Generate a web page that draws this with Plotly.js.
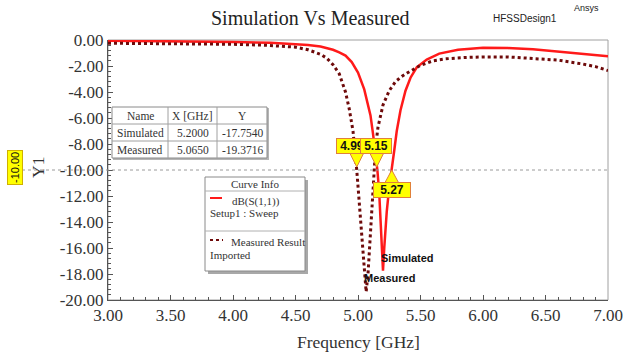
<!DOCTYPE html>
<html>
<head>
<meta charset="utf-8">
<script src="https://cdn.plot.ly/plotly-3.0.1.min.js"></script>
<style>html,body{margin:0;padding:0;background:#fff;}#chart{width:625px;height:358px;}</style>
</head>
<body>
<div id="chart"></div>
<script>
// ---- Data ----
const simFreq = [3.0, 3.5, 4.0, 4.3, 4.5, 4.6, 4.7, 4.8, 4.85, 4.9, 4.95, 5.0, 5.05, 5.1, 5.12, 5.14, 5.155, 5.17, 5.185, 5.195, 5.2,
  5.21, 5.23, 5.25, 5.27, 5.29, 5.31, 5.34, 5.38, 5.42, 5.47, 5.55, 5.65, 5.8, 6.0, 6.2, 6.4, 6.6, 6.8, 7.0];
const simDb = [-0.05, -0.08, -0.15, -0.22, -0.3, -0.38, -0.5, -0.75, -0.95, -1.2, -1.7, -2.5, -3.8, -5.8, -7.2, -8.8, -10.0, -11.8, -14.5, -17.0, -17.754,
  -16.0, -13.2, -11.3, -10.0, -8.5, -7.0, -5.4, -3.9, -2.9, -2.1, -1.5, -1.05, -0.75, -0.6, -0.62, -0.72, -0.88, -1.05, -1.25];

const measFreq = [3.0, 3.5, 4.0, 4.25, 4.5, 4.6, 4.7, 4.75, 4.8, 4.85, 4.9, 4.93, 4.96, 4.99, 5.01, 5.03, 5.05, 5.065,
  5.08, 5.1, 5.12, 5.13, 5.14, 5.16, 5.2, 5.25, 5.3, 5.35, 5.4, 5.45, 5.5, 5.6, 5.7, 5.85, 6.0, 6.2, 6.4, 6.6, 6.8, 6.9, 7.0];
const measDb = [-0.25, -0.28, -0.33, -0.4, -0.55, -0.75, -1.1, -1.4, -1.9, -2.6, -4.0, -5.3, -7.0, -10.0, -12.3, -14.8, -17.5, -19.3716,
  -18.0, -14.8, -12.0, -10.0, -8.3, -6.7, -5.0, -3.9, -3.2, -2.8, -2.5, -2.2, -1.95, -1.6, -1.45, -1.35, -1.3, -1.3, -1.4, -1.55, -1.85, -2.05, -2.35];

const xTickVals = [3.0, 3.5, 4.0, 4.5, 5.0, 5.5, 6.0, 6.5, 7.0];
const xTickText = ['3.00', '3.50', '4.00', '4.50', '5.00', '5.50', '6.00', '6.50', '7.00'];
const yTickVals = [0, -2, -4, -6, -8, -10, -12, -14, -16, -18, -20];
const yTickText = ['0.00', '-2.00', '-4.00', '-6.00', '-8.00', '-10.00', '-12.00', '-14.00', '-16.00', '-18.00', '-20.00'];

const tableHeader = ['Name', 'X [GHz]', 'Y'];
const tableNames = ['Simulated', 'Measured'];
const tableX = ['5.2000', '5.0650'];
const tableY = ['-17.7540', '-19.3716'];

const threshold = -10.0;
const downMarkerX = [4.99, 5.15];
const downMarkerText = ['4.99', '5.15'];
const upMarkerX = [5.27];
const upMarkerText = ['5.27'];

const simMin = [5.2, -17.754];
const measMin = [5.065, -19.3716];

// ---- Helpers for pixel placement ----
const L = 108, T = 40, PW = 500, PH = 260;
const px2x = p => (p - L) / PW;
const py2y = p => (T + PH - p) / PH;

const serif = 'Liberation Serif, Times New Roman, serif';
const sans = 'Liberation Sans, Arial, sans-serif';
const txt = '#333';

const traces = [
  {type: 'scatter', mode: 'lines', x: simFreq, y: simDb, name: 'dB(S(1,1))',
   line: {color: '#ff1a1a', width: 2.5}, hoverinfo: 'skip'},
  {type: 'scatter', mode: 'lines', x: measFreq, y: measDb, name: 'Measured Result',
   line: {color: '#6e0a0a', width: 3, dash: 'dot'}, hoverinfo: 'skip'}
];

const line = (x0, y0, x1, y1, color, width, dash) => ({
  type: 'line', xref: 'paper', yref: 'paper', x0: px2x(x0), x1: px2x(x1), y0: py2y(y0), y1: py2y(y1),
  line: {color: color, width: width, dash: dash || 'solid'}
});
const rect = (x0, y0, x1, y1, fill, lc, lw) => ({
  type: 'rect', xref: 'paper', yref: 'paper', x0: px2x(x0), x1: px2x(x1), y0: py2y(y1), y1: py2y(y0),
  fillcolor: fill, line: {color: lc || fill, width: lw === undefined ? 1 : lw}
});

// table geometry (pixels)
const tblLeft = 112, tblTop = 107, rowH = 17;
const colEdges = [tblLeft, 168, 217, 267];
const tblBottom = tblTop + rowH * 3;

const shapes = [
  {type: 'rect', xref: 'paper', yref: 'paper', x0: 0, x1: 1, y0: 0, y1: 1,
   line: {color: '#a0a0a0', width: 1}, layer: 'below'},
  {type: 'line', xref: 'paper', yref: 'y', x0: px2x(22), x1: 1, y0: threshold, y1: threshold,
   line: {color: '#9a9a9a', width: 1, dash: 'dot'}},
  // table
  rect(tblLeft + 1, tblTop + 1, colEdges[3] + 2, tblBottom + 2, '#b5b5b5', '#b5b5b5', 0),
  rect(tblLeft, tblTop, colEdges[3], tblBottom, '#ffffff', '#8a8a8a', 1),
  line(colEdges[1], tblTop, colEdges[1], tblBottom, '#a0a0a0', 1),
  line(colEdges[2], tblTop, colEdges[2], tblBottom, '#a0a0a0', 1),
  line(tblLeft, tblTop + rowH, colEdges[3], tblTop + rowH, '#a0a0a0', 1),
  line(tblLeft, tblTop + 2 * rowH, colEdges[3], tblTop + 2 * rowH, '#a0a0a0', 1),
  // curve info
  rect(208, 180, 308, 274, '#a8a8a8', '#a8a8a8', 0),
  rect(205, 177, 305, 271, '#ffffff', '#8a8a8a', 1),
  line(205, 191, 305, 191, '#b0b0b0', 1),
  line(205, 231, 305, 231, '#b0b0b0', 1),
  line(210, 198, 222, 198, '#ff1a1a', 2),
  line(210, 240, 223, 240, '#6e0a0a', 2, 'dot')
];

downMarkerX.forEach(x => shapes.push({
  type: 'path', xref: 'x', yref: 'y', xsizemode: 'pixel', ysizemode: 'pixel',
  xanchor: x, yanchor: threshold, path: 'M-7,17 L7,17 L0,3 Z',
  fillcolor: '#ffff00', line: {color: '#e0803a', width: 1}
}));
upMarkerX.forEach(x => shapes.push({
  type: 'path', xref: 'x', yref: 'y', xsizemode: 'pixel', ysizemode: 'pixel',
  xanchor: x, yanchor: threshold, path: 'M-7,-13 L7,-13 L0,0 Z',
  fillcolor: '#ffff00', line: {color: '#e0803a', width: 1}
}));

const note = (x, y, text, size, family, anchor, extra) => Object.assign({
  xref: 'paper', yref: 'paper', x: px2x(x), y: py2y(y), text: text, showarrow: false,
  xanchor: anchor || 'center', yanchor: 'middle', font: {family: family, size: size, color: txt}
}, extra || {});

const annotations = [
  note(310, 18, 'Simulation Vs Measured', 20, serif, 'center', {font: {family: serif, size: 20, color: '#222'}}),
  note(525, 18, 'HFSSDesign1', 10, sans, 'center', {font: {family: sans, size: 10, color: '#222'}}),
  note(586, 8, 'Ansys', 9, sans, 'center', {font: {family: sans, size: 9, color: '#222'}}),
  note(358, 342, 'Frequency [GHz]', 17.5, serif),
  note(38, 168, 'Y1', 17.5, serif, 'center', {textangle: -90}),
  {xref: 'paper', yref: 'y', x: px2x(15), y: threshold, yshift: 2, text: '-10.00', showarrow: false, textangle: -90,
   xanchor: 'center', yanchor: 'middle', bgcolor: '#ffff00', bordercolor: '#d0b000', borderwidth: 1, borderpad: 1,
   font: {family: sans, size: 11, color: '#111'}},
  note(255, 184, 'Curve Info', 11, serif),
  note(256, 201, 'dB(S(1,1))', 11, serif),
  note(208, 213, 'Setup1 : Sweep', 11, serif, 'left'),
  note(229, 242, 'Measured Result', 11, serif, 'left'),
  note(208, 255, 'Imported', 11, serif, 'left'),
  {xref: 'x', yref: 'y', x: simMin[0], y: simMin[1], text: '<b>Simulated</b>', showarrow: false,
   xanchor: 'left', yanchor: 'middle', xshift: -4, yshift: 13, font: {family: sans, size: 11, color: '#111'}},
  {xref: 'x', yref: 'y', x: measMin[0], y: measMin[1], text: '<b>Measured</b>', showarrow: false,
   xanchor: 'left', yanchor: 'middle', xshift: -4, yshift: 14, font: {family: sans, size: 11, color: '#111'}}
];

// table texts
const colCenters = [0, 1, 2].map(i => (colEdges[i] + colEdges[i + 1]) / 2);
tableHeader.forEach((h, i) => annotations.push(note(colCenters[i], tblTop + rowH / 2 + 0.5, h, 11.5, serif)));
[tableNames, tableX, tableY].forEach((col, i) => col.forEach((v, r) =>
  annotations.push(note(colCenters[i], tblTop + rowH * (r + 1) + rowH / 2 + 0.5, v, 11.5, serif))));

downMarkerX.forEach((x, i) => annotations.push({
  xref: 'x', yref: 'y', x: x, y: threshold, text: '<b>' + downMarkerText[i] + '</b>', showarrow: false,
  xanchor: 'center', yanchor: 'middle', xshift: i === 0 ? -5 : -1, yshift: 24, width: 28, height: 12,
  bgcolor: '#ffff00', bordercolor: '#e0803a', borderwidth: 1, borderpad: 1,
  font: {family: sans, size: 12, color: '#111'}
}));
upMarkerX.forEach((x, i) => annotations.push({
  xref: 'x', yref: 'y', x: x, y: threshold, text: '<b>' + upMarkerText[i] + '</b>', showarrow: false,
  xanchor: 'center', yanchor: 'middle', yshift: -20, width: 34, height: 12,
  bgcolor: '#ffff00', bordercolor: '#e0803a', borderwidth: 1, borderpad: 1,
  font: {family: sans, size: 12, color: '#111'}
}));

const layout = {
  width: 625, height: 358,
  margin: {l: L, r: 625 - L - PW, t: T, b: 358 - T - PH, pad: 0},
  paper_bgcolor: '#ffffff', plot_bgcolor: '#ffffff',
  showlegend: false,
  xaxis: {
    range: [3, 7], tickmode: 'array', tickvals: xTickVals, ticktext: xTickText,
    ticks: 'inside', ticklen: 5, tickcolor: '#555', tickwidth: 1,
    minor: {tickmode: 'linear', tick0: 3, dtick: 0.1, ticks: 'inside', ticklen: 3, tickcolor: '#555'},
    showline: true, linecolor: '#555', linewidth: 1, mirror: false,
    showgrid: false, zeroline: false,
    tickfont: {family: serif, size: 17, color: txt}
  },
  yaxis: {
    range: [-20, 0], tickmode: 'array', tickvals: yTickVals, ticktext: yTickText,
    ticks: 'inside', ticklen: 5, tickcolor: '#555', tickwidth: 1,
    minor: {tickmode: 'linear', tick0: 0, dtick: 0.4, ticks: 'inside', ticklen: 3, tickcolor: '#555'},
    showline: true, linecolor: '#555', linewidth: 1, mirror: false,
    showgrid: false, zeroline: false,
    tickfont: {family: serif, size: 17, color: txt}
  },
  shapes: shapes,
  annotations: annotations
};

Plotly.newPlot('chart', traces, layout, {staticPlot: true, displayModeBar: false});
</script>
</body>
</html>
